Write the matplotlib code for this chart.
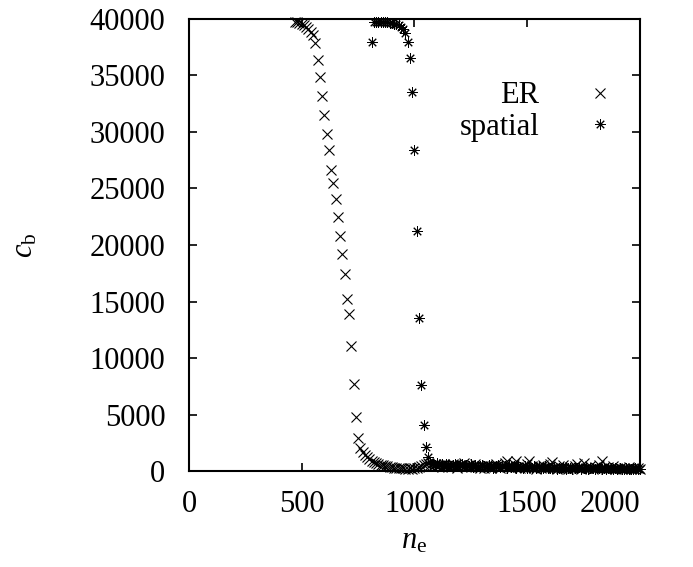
import numpy as np
import matplotlib.pyplot as plt

plt.rcParams['font.family'] = ['Liberation Serif', 'DejaVu Serif']
plt.rcParams['mathtext.fontset'] = 'custom'
plt.rcParams['mathtext.rm'] = 'Liberation Serif'
plt.rcParams['mathtext.it'] = 'Liberation Serif:italic'

# number of edges, ER series starts at 470, spatial at 810 (step 10)
ne_er = np.arange(470, 2001, 10)
ne_sp = np.arange(810, 2001, 10)

# betweenness c_b, ER graphs
cb_er = [
    39750, 39700, 39650,
    39550, 39450, 39300, 39100, 38880, 38590, 37860, 36380, 34900, 33190,
    31510, 29820, 28410, 26640, 25510, 24070, 22500, 20790, 19200, 17400,
    15220, 13870, 11090, 7670, 4810, 2900, 2000, 1650, 1400, 1200,
    1050, 900, 800, 700, 620, 550, 490, 440, 400, 360,
    330, 300, 280, 260, 240, 230, 220, 210, 230, 200,
    250, 300, 350, 420, 500, 600, 700, 550, 480, 650,
    420, 520, 380, 600, 450, 350, 500, 620, 400, 300,
    550, 450, 680, 380, 500, 320, 450, 600, 350, 250,
    420, 300, 500, 380, 280, 450, 600, 350, 250, 480,
    700, 850, 400, 300, 600, 900, 350, 250, 450, 300,
    650, 900, 400, 300, 200, 450, 300, 550, 250, 350,
    600, 820, 300, 200, 400, 250, 500, 300, 200, 350,
    250, 450, 600, 300, 200, 700, 300, 250, 400, 200,
    350, 250, 500, 880, 300, 200, 350, 250, 400, 200,
    300, 250, 180, 300, 220, 350, 200, 250, 180, 300,
    200,
]

# betweenness c_b, spatial graphs
cb_sp = [
    37950, 39700, 39750, 39750, 39750, 39700, 39700, 39700, 39650,
    39650, 39600, 39550, 39450, 39300, 39100, 38770, 38000, 36530, 33570,
    28400, 21200, 13550, 7600, 4100, 2100, 1200, 800, 650, 550,
    700, 500, 600, 450, 650, 500, 400, 550, 600, 450,
    500, 650, 400, 550, 450, 600, 350, 500, 450, 400,
    550, 400, 350, 500, 450, 300, 400, 550, 350, 450,
    400, 300, 500, 350, 450, 300, 400, 350, 250, 400,
    300, 350, 250, 400, 300, 350, 250, 300, 400, 250,
    300, 250, 350, 200, 300, 250, 350, 200, 300, 250,
    200, 300, 250, 350, 200, 250, 300, 200, 250, 300,
    200, 250, 300, 200, 250, 200, 300, 250, 200, 250,
    200, 250, 200, 150, 250, 200, 150, 200, 250, 200,
    150,
]

xticks = [0, 500, 1000, 1500, 2000]

fig = plt.figure(figsize=(6.93, 5.67), dpi=100)
ax = fig.add_axes([0.2727, 0.1693, 0.6508, 0.7972])

ax.plot(ne_er, cb_er, linestyle='none', marker='x', color='black',
        markersize=7, markeredgewidth=0.8, clip_on=False, label='ER')
ax.plot(ne_sp, cb_sp, linestyle='none', marker=(8, 2, 0), color='black',
        markersize=7.5, markeredgewidth=0.7, clip_on=False, label='spatial')

ax.set_xlim(0, 2000)
ax.set_ylim(0, 40000)
ax.set_xticks(xticks)
ax.set_yticks(np.arange(0, 40001, 5000))

ax.tick_params(direction='in', length=6, width=1.2, labelsize=22,
               top=True, right=True)
ax.tick_params(axis='y', pad=17)
ax.tick_params(axis='x', pad=14)
for s in ax.spines.values():
    s.set_linewidth(1.5)

# last x label kept inside the frame, as in the original
ax.get_xticklabels()[-1].set_horizontalalignment('right')

ax.set_xlabel(r'$n_{\rm e}$', fontsize=22, labelpad=5)
ax.set_ylabel(r'$c_{\rm b}$', fontsize=22, labelpad=36)

ax.legend(loc='upper right', bbox_to_anchor=(0.98, 0.862), frameon=False,
          markerfirst=False, fontsize=22, handlelength=2.0,
          handletextpad=1.0, labelspacing=0.08, borderpad=0,
          borderaxespad=0)

fig.savefig('out.png', dpi=100)
